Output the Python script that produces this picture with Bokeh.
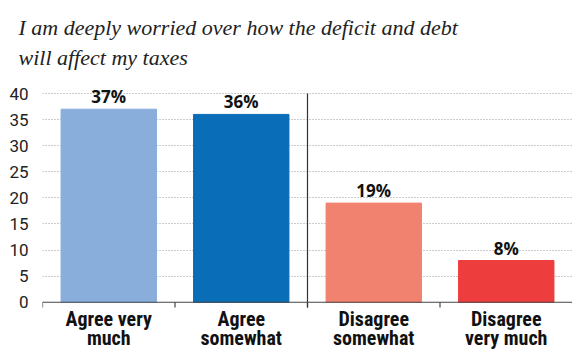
from bokeh.plotting import figure
from bokeh.models import (Range1d, FactorRange, LinearAxis, CategoricalAxis, FixedTicker,
                          Title, ColumnDataSource, LabelSet, Span)
from bokeh.core.properties import value
from bokeh.embed import file_html
from bokeh.resources import INLINE

title_text = "I am deeply worried over how the deficit and debt\nwill affect my taxes"
categories = ["Agree very\nmuch", "Agree\nsomewhat", "Disagree\nsomewhat", "Disagree\nvery much"]
values = [37, 36, 19, 8]
value_labels = ["37%", "36%", "19%", "8%"]
colors = ["#89aedc", "#0a6db8", "#f28270", "#ee3d3d"]
y_ticks = [0, 5, 10, 15, 20, 25, 30, 35, 40]

NARROW = "'Liberation Sans Narrow', 'Roboto Condensed', Roboto, sans-serif"
SANS = "Roboto, sans-serif"
SERIF = "'Liberation Serif', serif"

p = figure(width=572, height=353, x_range=FactorRange(factors=categories, range_padding=0),
           y_range=Range1d(-1.2, 42.5), output_backend="svg", toolbar_location=None,
           min_border_left=42, min_border_right=0, min_border_bottom=44, min_border_top=80,
           x_axis_location=None, y_axis_location=None)
p.outline_line_color = None
p.background_fill_color = "white"

# y axis
ya = LinearAxis(ticker=FixedTicker(ticks=y_ticks))
ya.axis_line_color = None
ya.major_tick_line_color = None
ya.minor_tick_line_color = None
ya.major_label_text_font = SANS
ya.major_label_text_font_size = "17px"
ya.major_label_text_color = "#222222"
ya.major_label_standoff = 8
p.add_layout(ya, "left")

ca = CategoricalAxis()
ca.axis_line_color = None
ca.major_tick_line_color = None
ca.minor_tick_line_color = None
ca.major_label_text_font = NARROW
ca.major_label_text_font_style = "bold"
ca.major_label_text_font_size = "20px"
ca.major_label_text_line_height = 0.82
ca.major_label_text_color = "#111111"
ca.major_label_standoff = -8
p.add_layout(ca, "below")

p.xgrid.grid_line_color = None
p.ygrid.ticker = FixedTicker(ticks=y_ticks[1:])
p.ygrid.grid_line_color = "#999999"
p.ygrid.grid_line_dash = "1 2"
p.ygrid.grid_line_width = 1

src = ColumnDataSource(dict(x=categories, top=values, lab=value_labels, color=colors))
p.vbar(x="x", top="top", width=0.72, color="color", source=src)

# baseline and boundary ticks
p.add_layout(Span(location=0, dimension="width", line_color="#444444", line_width=1.2))
bounds = [[c, -0.5] for c in categories]
p.segment(x0=bounds, y0=[0] * len(bounds), x1=bounds, y1=[-1] * len(bounds),
          line_color="#444444", line_width=1.2)
# divider between agree / disagree
div = [[categories[2], -0.5]]
p.segment(x0=div, y0=[-1], x1=div, y1=[40], line_color="#333333", line_width=1.2)

labels = LabelSet(x="x", y="top", text="lab", source=src, text_align="center",
                  text_baseline="bottom", y_offset=1, text_font=value("Open Sans"),
                  text_font_style="bold", text_font_size="17px", text_color="#111111")
p.add_layout(labels)

t = Title(text=title_text, text_font=SERIF, text_font_style="italic",
          text_font_size="22px", text_line_height=1.2, text_color="#222222",
          offset=-24, standoff=22)
p.add_layout(t, "above")

open("out.html", "w").write(file_html(p, INLINE))
